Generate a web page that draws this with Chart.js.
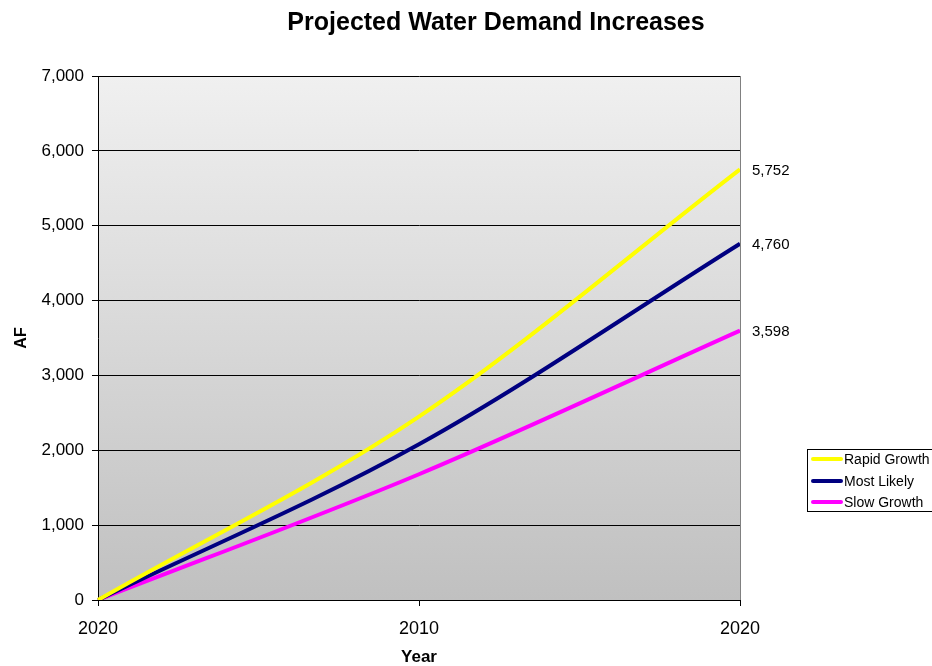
<!DOCTYPE html>
<html>
<head>
<meta charset="utf-8">
<script src="https://cdn.jsdelivr.net/npm/chart.js@4"></script>
<style>
html,body{margin:0;padding:0;background:#fff;}
#wrap{width:932px;height:666px;position:relative;}
</style>
</head>
<body>
<div id="wrap"><canvas id="c" width="932" height="666"></canvas></div>
<script>
const categories = ["2020", "2010", "2020"];
const rapidGrowth = [0, 2450, 5752];
const mostLikely = [0, 2080, 4760];
const slowGrowth = [0, 1680, 3598];
const seriesNames = ["Rapid Growth", "Most Likely", "Slow Growth"];
const seriesColors = ["#ffff00", "#000080", "#ff00ff"];
const yTicks = [0, 1000, 2000, 3000, 4000, 5000, 6000, 7000];

const FONT = "'Liberation Sans', Arial, sans-serif";

const bgPlugin = {
  id: 'bg',
  beforeDraw(chart) {
    const {ctx, chartArea: a} = chart;
    const g = ctx.createLinearGradient(0, a.top, 0, a.bottom);
    g.addColorStop(0, '#f0f0f0');
    g.addColorStop(1, '#c0c0c0');
    ctx.save();
    ctx.fillStyle = g;
    ctx.fillRect(a.left, a.top, a.right - a.left, a.bottom - a.top);
    ctx.restore();
  },
  afterDatasetsDraw(chart) {
    const {ctx, chartArea: a} = chart;
    ctx.save();
    ctx.strokeStyle = '#808080';
    ctx.lineWidth = 1;
    ctx.beginPath();
    ctx.moveTo(a.right + 0.5, a.top);
    ctx.lineTo(a.right + 0.5, a.bottom);
    ctx.stroke();
    ctx.restore();
  },
  afterDraw(chart) {
    const {ctx} = chart;
    ctx.save();
    ctx.fillStyle = '#000';
    ctx.font = "bold 25px " + FONT;
    ctx.textAlign = 'center';
    ctx.textBaseline = 'middle';
    ctx.fillText("Projected Water Demand Increases", 496, 23);
    ctx.font = "15px " + FONT;
    ctx.textAlign = 'left';
    chart.data.datasets.forEach((ds, i) => {
      const meta = chart.getDatasetMeta(i);
      const last = meta.data[meta.data.length - 1];
      const v = ds.data[ds.data.length - 1];
      ctx.fillText(v.toLocaleString('en-US'), last.x + 12, last.y + 1);
    });
    const lx = 807.5, ly = 449.5, lw = 130, lh = 62;
    ctx.strokeStyle = '#000';
    ctx.lineWidth = 1;
    ctx.fillStyle = '#fff';
    ctx.fillRect(lx, ly, lw, lh);
    ctx.strokeRect(lx, ly, lw, lh);
    ctx.font = "14px " + FONT;
    ctx.textBaseline = 'middle';
    const rows = [459, 481, 502];
    seriesNames.forEach((n, i) => {
      ctx.strokeStyle = seriesColors[i];
      ctx.lineWidth = 4;
      ctx.lineCap = 'round';
      ctx.beginPath();
      ctx.moveTo(813, rows[i]);
      ctx.lineTo(841, rows[i]);
      ctx.stroke();
      ctx.fillStyle = '#000';
      ctx.fillText(n, 844, rows[i] + 1);
    });
    ctx.restore();
  }
};

const dataSets = [rapidGrowth, mostLikely, slowGrowth].map((d, i) => ({
  label: seriesNames[i],
  data: d,
  borderColor: seriesColors[i],
  backgroundColor: seriesColors[i],
  borderWidth: 4,
  pointRadius: 0,
  fill: false,
  cubicInterpolationMode: 'monotone'
}));

new Chart(document.getElementById('c'), {
  type: 'line',
  data: { labels: categories, datasets: dataSets },
  plugins: [bgPlugin],
  options: {
    responsive: false,
    animation: false,
    events: [],
    layout: { padding: { left: 0, right: 192, top: 76, bottom: 0 } },
    plugins: { legend: { display: false }, tooltip: { enabled: false }, title: { display: false } },
    scales: {
      x: {
        type: 'category',
        offset: false,
        afterFit(s) { s.height = 66; },
        grid: { drawOnChartArea: false, drawTicks: true, tickLength: 6, tickColor: '#000', color: '#000' },
        border: { color: '#000', width: 1 },
        ticks: { color: '#000', font: { family: FONT, size: 18 }, padding: 12, maxRotation: 0, autoSkip: false },
        title: { display: true, text: 'Year', color: '#000', font: { family: FONT, size: 17, weight: 'bold', lineHeight: 1.0 }, padding: { top: 4, bottom: 0 } }
      },
      y: {
        min: 0, max: 7000,
        afterFit(s) { s.width = 98; },
        afterBuildTicks(s) { s.ticks = yTicks.map(v => ({ value: v })); },
        grid: { color: '#000', lineWidth: 1, drawTicks: true, tickLength: 6, tickColor: '#000' },
        border: { color: '#000', width: 1 },
        ticks: { color: '#000', font: { family: FONT, size: 17 }, padding: 8,
          callback: v => Number(v).toLocaleString('en-US') },
        title: { display: true, text: 'AF', color: '#000', font: { family: FONT, size: 16, weight: 'bold' }, padding: { top: 12, bottom: 0 } }
      }
    }
  }
});
</script>
</body>
</html>
